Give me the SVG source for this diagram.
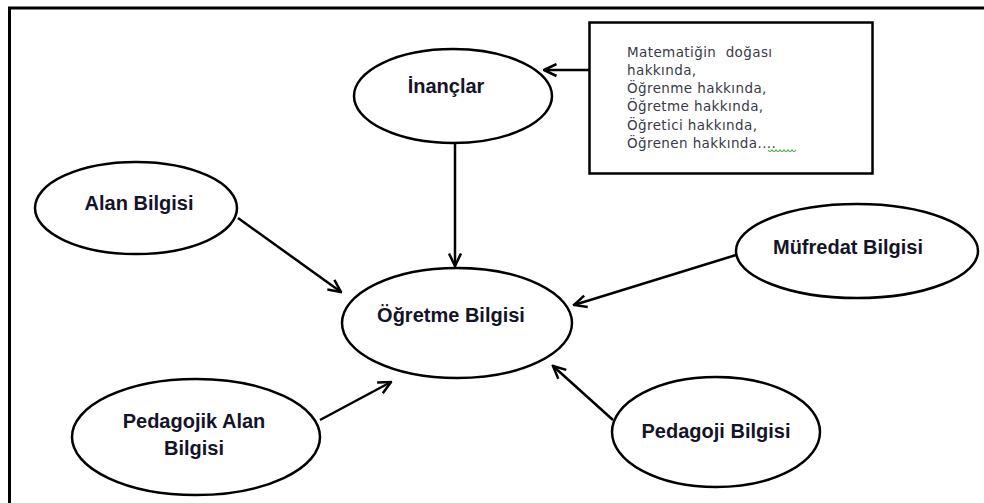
<svg xmlns="http://www.w3.org/2000/svg" width="984" height="503" viewBox="0 0 984 503">
<style>
.node{fill:#fff;stroke:#000;stroke-width:2.5}
.lbl{font-family:"Liberation Sans",Arial,sans-serif;font-weight:bold;font-size:20px;fill:#141428;text-anchor:middle}
.note{font-family:"DejaVu Sans",Verdana,sans-serif;font-size:13.5px;letter-spacing:0.4px;fill:#3a3a48;white-space:pre}
.conn{stroke:#000;stroke-width:2.5;fill:none}
</style>
<defs>
<marker id="arr" viewBox="0 0 15 15" refX="13.5" refY="7.5" markerWidth="15" markerHeight="15" markerUnits="userSpaceOnUse" orient="auto">
<path d="M1,1.5 L13.5,7.5 L1,13.5" fill="none" stroke="#000" stroke-width="2.5" stroke-linejoin="miter"/>
</marker>
</defs>
<rect width="984" height="503" fill="#fff"/>
<path d="M9.5,503 V8 H984" fill="none" stroke="#000" stroke-width="3"/>

<g id="connectors">
<line class="conn" x1="455" y1="143" x2="455" y2="266" marker-end="url(#arr)"/>
<line class="conn" x1="589" y1="70" x2="544" y2="70" marker-end="url(#arr)"/>
<line class="conn" x1="238" y1="218" x2="341" y2="292" marker-end="url(#arr)"/>
<line class="conn" x1="736" y1="255" x2="574" y2="305" marker-end="url(#arr)"/>
<line class="conn" x1="320" y1="420" x2="391" y2="382" marker-end="url(#arr)"/>
<line class="conn" x1="613" y1="420" x2="553" y2="366" marker-end="url(#arr)"/>
</g>

<g id="inanclar">
<ellipse class="node" cx="453" cy="96" rx="99" ry="47"/>
<text class="lbl" x="446" y="93">İnançlar</text>
</g>

<g id="note">
<rect x="589.5" y="22.5" width="283" height="151" fill="#fff" stroke="#000" stroke-width="2.5"/>
<text class="note" x="627" y="57" xml:space="preserve">Matematiğin  doğası</text>
<text class="note" x="627" y="75">hakkında,</text>
<text class="note" x="627" y="93">Öğrenme hakkında,</text>
<text class="note" x="627" y="111">Öğretme hakkında,</text>
<text class="note" x="627" y="130">Öğretici hakkında,</text>
<text class="note" x="627" y="148">Öğrenen hakkında....</text>
<path d="M768,150 q2,3 4,0 q2,3 4,0 q2,3 4,0 q2,3 4,0 q2,3 4,0 q2,3 4,0 q2,3 4,0" fill="none" stroke="#3aa83a" stroke-width="1.2"/>
</g>

<g id="alan">
<ellipse class="node" cx="136" cy="208" rx="101" ry="46"/>
<text class="lbl" x="139" y="210">Alan Bilgisi</text>
</g>

<g id="ogretme">
<ellipse class="node" cx="457" cy="323" rx="115" ry="55"/>
<text class="lbl" x="451" y="322">Öğretme Bilgisi</text>
</g>

<g id="mufredat">
<ellipse class="node" cx="857" cy="251" rx="121" ry="47"/>
<text class="lbl" x="848" y="254">Müfredat Bilgisi</text>
</g>

<g id="pedagojik">
<ellipse class="node" cx="196" cy="437" rx="124" ry="58"/>
<text class="lbl" x="194" y="428">Pedagojik Alan</text>
<text class="lbl" x="194" y="455">Bilgisi</text>
</g>

<g id="pedagoji">
<ellipse class="node" cx="716" cy="432" rx="104" ry="55"/>
<text class="lbl" x="716" y="438">Pedagoji Bilgisi</text>
</g>
</svg>
